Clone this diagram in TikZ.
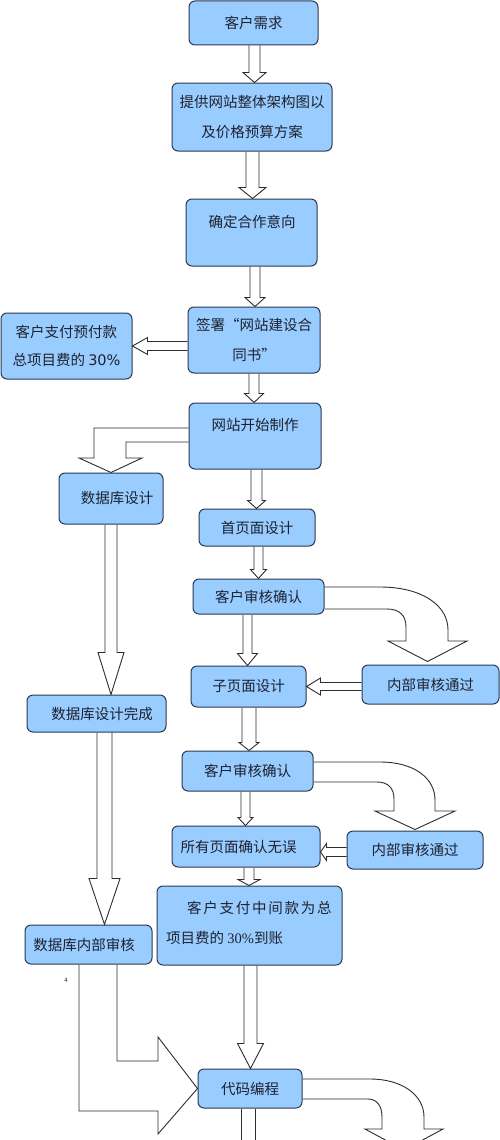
\documentclass[tikz,border=0pt]{standalone}
\usepackage{fontspec}
\setmainfont{Noto Sans CJK SC}
\newfontfamily\numsans{DejaVu Sans}
\newfontfamily\numserif{Liberation Serif}
\usepackage{tikz}
\usetikzlibrary{calc,positioning}

\definecolor{boxblue}{RGB}{153,204,255}
\definecolor{boxedge}{RGB}{45,58,80}
\definecolor{arrowedge}{RGB}{45,45,45}
\definecolor{textdark}{RGB}{30,34,48}

% hollow arrow going down: from, to, dx, shaft half width, head half width, head length
\newcommand{\fatdown}[6]{%
  \draw[fat] ($(#2.north |- #1.south)+(#3-#4,0)$) -- ($(#2.north)+(#3-#4,-#6)$) -- ($(#2.north)+(#3-#5,-#6)$)
    -- ($(#2.north)+(#3,0)$) -- ($(#2.north)+(#3+#5,-#6)$) -- ($(#2.north)+(#3+#4,-#6)$) -- ($(#2.north |- #1.south)+(#3+#4,0)$);}
% hollow arrow going left: from, to, dy, shaft half width, head half width, head length
\newcommand{\fatleft}[6]{%
  \draw[fat] ($(#1.west |- #2.east)+(0,#3-#4)$) -- ($(#2.east)+(#6,#3-#4)$) -- ($(#2.east)+(#6,#3-#5)$)
    -- ($(#2.east)+(0,#3)$) -- ($(#2.east)+(#6,#3+#5)$) -- ($(#2.east)+(#6,#3+#4)$) -- ($(#1.west |- #2.east)+(0,#3+#4)$);}

\begin{document}
\begin{tikzpicture}[x=1pt, y=-1pt,
    flowbox/.style={rectangle, draw=boxedge, line width=1pt, fill=boxblue, rounded corners=6pt, inner sep=0pt,
        align=center, text=textdark, font=\fontsize{14.5}{30}\selectfont},
    boxtext/.style={inner sep=0pt, text=textdark, font=\fontsize{14.5}{30}\selectfont},
    fat/.style={draw=arrowedge, line width=0.9pt, line join=miter}
]

% Page
\useasboundingbox (0,0) rectangle (500,1140);
\clip (0,0) rectangle (500,1140);
\fill[white] (0,0) rectangle (500,1140);

% Main column
\node[flowbox, minimum width=129pt, minimum height=44pt] (need) at (253.5,23) {客户需求};
\node[flowbox, minimum width=160pt, minimum height=68pt] (plan) at (252,117) {提供网站整体架构图以\\及价格预算方案};
\node[flowbox, minimum width=131pt, minimum height=67pt] (deal) at (251.5,232.5) {};
\node[boxtext] (dealtxt) at (252,222) {确定合作意向};
\node[flowbox, minimum width=132pt, minimum height=66pt] (sign) at (254,340) {签署“网站建设合\\同书”};
\node[flowbox, minimum width=131pt, minimum height=66pt] (prepay) at (66.5,346) {客户支付预付款\\[-2pt]总项目费的 {\numsans 30\%}};
\node[flowbox, minimum width=132pt, minimum height=66pt] (start) at (255,436) {};
\node[boxtext] (starttxt) at (255,425) {网站开始制作};

% Page design
\node[flowbox, minimum width=116pt, minimum height=37pt] (home) at (257,527.5) {首页面设计};
\node[flowbox, minimum width=131pt, minimum height=35pt] (check1) at (258.5,596.5) {客户审核确认};
\node[flowbox, minimum width=115pt, minimum height=41pt] (sub) at (248.5,686.5) {子页面设计};
\node[flowbox, minimum width=137pt, minimum height=39pt] (inner1) at (430.5,684.5) {内部审核通过};
\node[flowbox, minimum width=131pt, minimum height=40pt] (check2) at (247.5,771) {客户审核确认};
\node[flowbox, minimum width=148pt, minimum height=41pt] (allok) at (246,846.5) {所有页面确认无误\hspace{15pt}\mbox{}};
\node[flowbox, minimum width=136pt, minimum height=38pt] (inner2) at (415,850) {内部审核通过};
\node[flowbox, minimum width=185pt, minimum height=79pt] (midpay) at (249.5,925.5) {};
\node[boxtext, anchor=west] (midtxt1) at (187,908) {\addfontfeature{LetterSpace=12}客户支付中间款为总};
\node[boxtext, anchor=west] (midtxt2) at (166,938) {项目费的 {\numserif 30\%}到账};
\node[flowbox, minimum width=104pt, minimum height=39pt] (code) at (250,1088.5) {代码编程};

% Database column
\node[flowbox, minimum width=104pt, minimum height=51pt] (dbdesign) at (111,498.5) {\mbox{}\hspace{12pt}数据库设计};
\node[flowbox, minimum width=139pt, minimum height=37pt] (dbdone) at (96.5,713.5) {\mbox{}\hspace{11pt}数据库设计完成};
\node[flowbox, minimum width=127pt, minimum height=39pt] (dbcheck) at (88.5,944.5) {数据库内部审核\hspace{9pt}\mbox{}};
\node[font=\fontsize{6}{7}\selectfont, text=textdark, inner sep=0pt] (pagenum) at (66,980) {4};

% Ends below the page
\coordinate (offtip) at (404,1150);
\coordinate (offdown) at (248,1170);

% Straight arrows
\fatdown{need}{plan}{2.5}{5.5}{11.5}{10}
\fatdown{plan}{deal}{1}{6.5}{13.5}{11}
\fatdown{deal}{sign}{1}{5}{10}{9}
\fatdown{sign}{start}{-1}{5}{9.5}{9}
\fatdown{start}{home}{-0.5}{5.5}{9}{8}
\fatdown{home}{check1}{0}{4.5}{8}{9}
\fatdown{check1}{sub}{-1}{4.5}{10}{12}
\fatdown{sub}{check2}{1.5}{7}{10}{8}
\fatdown{check2}{allok}{-0.5}{4.5}{7.5}{8}
\fatdown{allok}{midpay}{-0.5}{5}{11}{6}
\fatdown{midpay}{code}{0.5}{6.5}{13}{25}
\fatdown{dbdesign}{dbdone}{14.5}{6}{13}{42}
\fatdown{dbdone}{dbcheck}{16}{7.5}{15.5}{46}
\fatleft{sign}{prepay}{0}{4.5}{8.5}{15}
\fatleft{inner1}{sub}{0}{4}{8.5}{14}
\fatleft{inner2}{allok}{5.5}{4.5}{8.5}{6}
\draw[fat] ($(code.south)+(-9,0)$) -- ($(offdown)+(-7,0)$);
\draw[fat] ($(code.south)+(5,0)$) -- ($(offdown)+(7,0)$);

% Elbow arrows
\draw[fat] (start.west |- 0,428) -- (94,428) -- (94,458) -- (79,458) -- (dbdesign.north) -- (142,458) -- (126,458)
    -- (126,442) -- (start.west |- 0,442);
\draw[fat] (dbcheck.south -| 79,0) -- (79,1111) -- (158,1111) -- (158,1134) -- (code.west) -- (158,1037)
    -- (158,1061) -- (117,1061) -- (dbcheck.south -| 117,0);

% Bent arrows
\draw[fat] (check1.east |- 0,587) -- (380,587) .. controls (420,587) and (448,604) .. (448,630) -- (448,641)
    -- (467,641) -- ($(inner1.north)+(-3,-3)$) -- (388,641) -- (406,641) -- (406,627)
    .. controls (406,615) and (399,609) .. (387,609) -- (check1.east |- 0,609);
\draw[fat] (check2.east |- 0,762) -- (380,762) .. controls (414,762) and (435,778) .. (435,800) -- (435,811)
    -- (455,811) -- ($(inner2.north)+(0,-1)$) -- (375,811) -- (394,811) -- (394,799)
    .. controls (394,788) and (388,782) .. (377,782) -- (check2.east |- 0,782);
\draw[fat] (code.east |- 0,1079) -- (370,1079) .. controls (402,1079) and (424,1095) .. (424,1117) -- (424,1129)
    -- (443,1129) -- (offtip) -- (365,1129) -- (382,1129) -- (382,1117)
    .. controls (382,1106) and (377,1099) .. (368,1099) -- (code.east |- 0,1099);

\end{tikzpicture}
\end{document}
